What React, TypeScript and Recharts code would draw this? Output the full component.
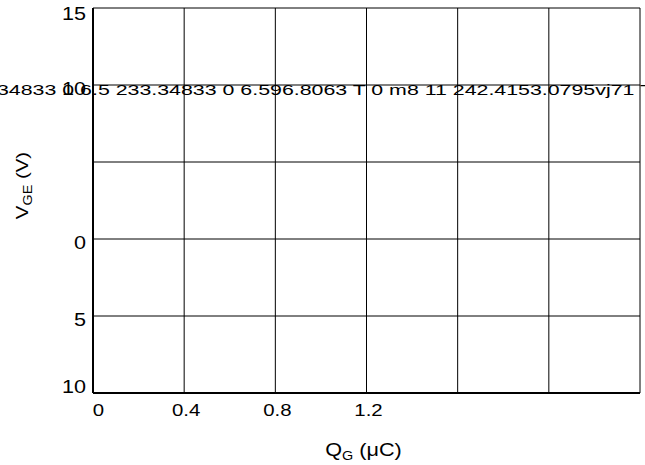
import { CartesianGrid, ComposedChart, Label, XAxis, YAxis } from "recharts";

// gate charge axis (µC) and gate-emitter voltage axis (V)
const qgTicks = [0, 0.4, 0.8, 1.2, 1.6, 2.0, 2.4];
const qgTickLabels = ["0", "0.4", "0.8", "1.2", "", "", ""];
const vgeTicks = [-10, -5, 0, 5, 10, 15];
const vgeTickLabels = ["10", "5", "0", "", "10", "15"];
// stray text run left over from the source document
const strayText = "34833 0 6.5 233.34833 0 6.596.8063 T 0 m8 11  242.4153.0795vj71 T";

const FONT = "'Liberation Sans', Arial, Helvetica, sans-serif";
const W = 645;
const H = 465;

const data = qgTicks.map((q) => ({ q }));

function XTick({ x, y, payload }: any) {
  const label = qgTickLabels[qgTicks.indexOf(payload.value)] ?? "";
  if (!label) return null;
  const cx = Math.max(x + 2, 98.5);
  return (
    <g transform={`translate(${cx},${y + 23}) scale(1.2,1)`}>
      <text x={0} y={0} textAnchor="middle" fontFamily={FONT} fontSize={17} fill="#000">
        {label}
      </text>
    </g>
  );
}

function YTick({ x, y, payload }: any) {
  const label = vgeTickLabels[vgeTicks.indexOf(payload.value)] ?? "";
  if (!label) return null;
  const cy = Math.min(Math.max(y + 3, 13), 386.5);
  return (
    <g transform={`translate(${x - 7},${cy + 6.5}) scale(1.2,1)`}>
      <text x={0} y={0} textAnchor="end" fontFamily={FONT} fontSize={18} fill="#000">
        {label}
      </text>
    </g>
  );
}

function XTitle({ viewBox }: any) {
  const { x, y, width } = viewBox;
  return (
    <g transform={`translate(${x + width / 2 - 3},${y + 63}) scale(1.2,1)`}>
      <text x={0} y={0} textAnchor="middle" fontFamily={FONT} fontSize={18} fill="#000">
        Q
        <tspan fontSize={12} dy={4}>G</tspan>
        <tspan dy={-4}> (μC)</tspan>
      </text>
    </g>
  );
}

function YTitle({ viewBox }: any) {
  const { y, height } = viewBox;
  return (
    <g transform={`translate(28,${y + height / 2 - 15}) rotate(-90) scale(1.2,1)`}>
      <text x={0} y={0} textAnchor="middle" fontFamily={FONT} fontSize={17} fill="#000">
        V
        <tspan fontSize={12} dy={4}>GE</tspan>
        <tspan dy={-4}> (V)</tspan>
      </text>
    </g>
  );
}

export default function App() {
  return (
    <div style={{ position: "absolute", left: 0, top: 0, width: W, height: H, background: "#fff" }}>
      <ComposedChart width={W} height={H} data={data} margin={{ top: 8, right: 5, bottom: 0, left: 0 }}>
        <CartesianGrid stroke="#000" strokeWidth={1} />
        <XAxis
          dataKey="q"
          type="number"
          domain={[0, 2.4]}
          allowDataOverflow
          ticks={qgTicks}
          interval={0}
          height={72}
          tickSize={0}
          tickMargin={0}
          tickLine={false}
          axisLine={{ stroke: "#000", strokeWidth: 2 }}
          tick={<XTick />}
        >
          <Label content={<XTitle />} />
        </XAxis>
        <YAxis
          type="number"
          domain={[-10, 15]}
          allowDataOverflow
          ticks={vgeTicks}
          interval={0}
          width={93}
          tickSize={0}
          tickMargin={0}
          tickLine={false}
          axisLine={{ stroke: "#000", strokeWidth: 2 }}
          tick={<YTick />}
        >
          <Label content={<YTitle />} />
        </YAxis>
      </ComposedChart>
      <svg width={W} height={H} style={{ position: "absolute", left: 0, top: 0, pointerEvents: "none" }}>
        <text
          x={-3}
          y={95}
          textLength={656}
          lengthAdjust="spacingAndGlyphs"
          fontFamily={FONT}
          fontSize={14}
          fill="#000"
        >
          {strayText}
        </text>
      </svg>
    </div>
  );
}
